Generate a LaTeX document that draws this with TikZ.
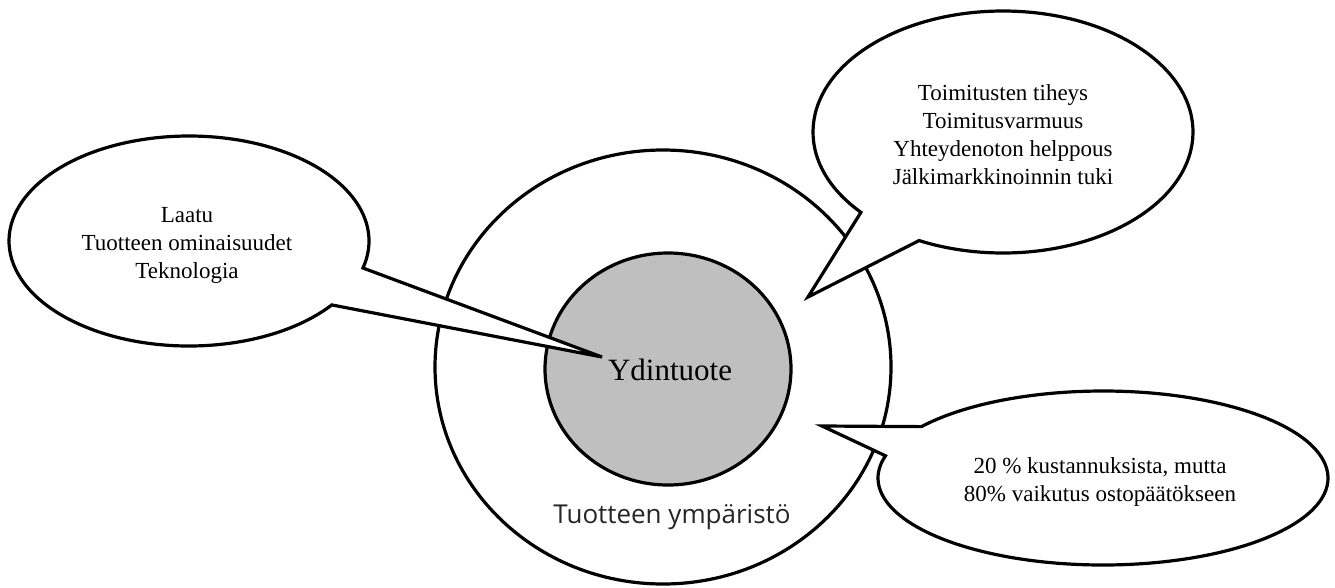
\documentclass[tikz,border=0pt]{standalone}
\usepackage{fontspec}
\setmainfont{Liberation Serif}
\newfontfamily\ringfont{Open Sans}
\usetikzlibrary{calc}
\begin{document}
\begin{tikzpicture}[x=1pt,y=-1pt,
  outline/.style={draw=black, line width=3.2pt},
  bubble/.style={outline, fill=white, line join=miter},
  bubbletext/.style={align=center, inner sep=0pt, font=\fontsize{23}{28}\selectfont},
]
\useasboundingbox (0,0) rectangle (1335,587);

% product environment (outer ring) and core product (inner disc)
\coordinate (ringc) at (663,367);
\coordinate (corec) at (668,369);
\draw[outline, fill=white] (ringc) ellipse [x radius=228, y radius=217];
\draw[outline, fill=black!25] (corec) ellipse [x radius=123, y radius=116];

% speech bubbles: ellipse outline with a pointed tail
\coordinate (cL) at (189,241);  \coordinate (tipL) at (602,357);
\coordinate (cT) at (1003,132); \coordinate (tipT) at (808,297);
\coordinate (cB) at (1103,478); \coordinate (tipB) at (822,426);

\draw[bubble] (tipL) -- ($(cL)+(37.5:180 and 105)$)
  arc[start angle=37.5, end angle=374.9, x radius=180, y radius=105] -- cycle;
\draw[bubble] (tipT) -- ($(cT)+(138.4:190 and 121)$)
  arc[start angle=138.4, end angle=476.2, x radius=190, y radius=121] -- cycle;
\draw[bubble] (tipB) -- ($(cB)+(216.2:225 and 87)$)
  arc[start angle=216.2, end angle=554.8, x radius=225, y radius=87] -- cycle;

% labels
\node[font=\fontsize{31}{31}\selectfont, anchor=base, inner sep=0pt] (core) at (670,380) {Ydintuote};
\node[font=\ringfont\fontsize{26}{26}\selectfont, text=black!85, anchor=base, inner sep=0pt] (ring) at (672,523) {Tuotteen ympäristö};

\node[bubbletext] (qualities) at (187,245) {Laatu\\Tuotteen ominaisuudet\\Teknologia};
\node[bubbletext] (service) at (1003,135) {Toimitusten tiheys\\Toimitusvarmuus\\Yhteydenoton helppous\\Jälkimarkkinoinnin tuki};
\node[bubbletext] (share) at (1100,482) {20 \% kustannuksista, mutta\\80\% vaikutus ostopäätökseen};
\end{tikzpicture}
\end{document}
